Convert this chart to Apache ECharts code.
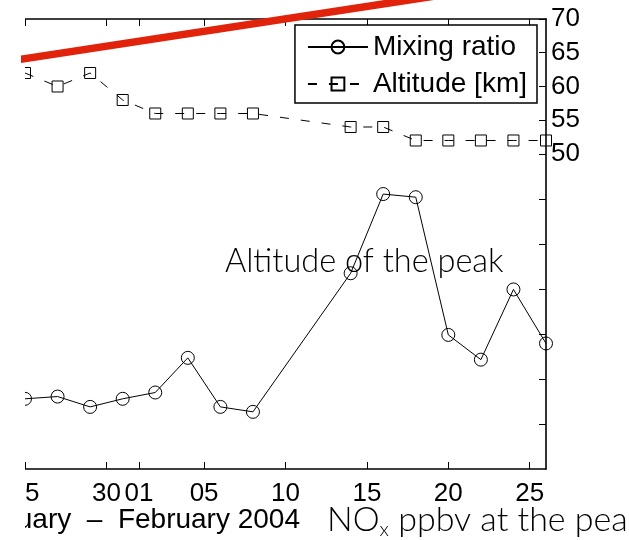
<!DOCTYPE html>
<html>
<head>
<meta charset="utf-8">
<script src="https://cdn.jsdelivr.net/npm/echarts@6/dist/echarts.min.js"></script>
<style>
  html, body { margin: 0; padding: 0; background: #fff; }
  #chart { width: 629px; height: 540px; }
</style>
</head>
<body>
<div id="chart"></div>
<script>
// Sampling dates (every second day, gap 8–14 Feb)
const dates = ['2004-01-25', '2004-01-27', '2004-01-29', '2004-01-31', '2004-02-02',
               '2004-02-04', '2004-02-06', '2004-02-08', '2004-02-14', '2004-02-16',
               '2004-02-18', '2004-02-20', '2004-02-22', '2004-02-24', '2004-02-26'];
// NOx mixing ratio at the peak (ppbv)
const mixingRatio = [1.56, 1.61, 1.38, 1.56, 1.70, 2.47, 1.38, 1.27, 4.35, 6.11,
                     6.04, 2.98, 2.43, 3.99, 2.79];
// Altitude of the peak (km)
const altitudeKm = [62, 60, 62, 58, 56, 56, 56, 56, 54, 54, 52, 52, 52, 52, 52];

// Axis ticks
const dateTicks = ['2004-01-25', '2004-01-30', '2004-02-01', '2004-02-05', '2004-02-10',
                   '2004-02-15', '2004-02-20', '2004-02-25'];
const altitudeTicks = [50, 55, 60, 65, 70];
const ratioTicks = [1, 2, 3, 4, 5, 6];

// Axis ranges
const dateRange = ['2004-01-25', '2004-02-26'];
const ratioRange = [0, 10];
const altitudeRange = [3.3333, 70];

// Red trend stroke (date, altitude km), runs past the frame
const trendLine = [['2004-01-23', 63.4], ['2004-02-20', 73.7]];

// dates are placed on a linear axis as millisecond timestamps
const T = s => echarts.time.parse(s).getTime();
const FONT = '"Liberation Sans", Arial, Helvetica, sans-serif';
const LIGHT = 'Lato, "Open Sans", Roboto, sans-serif';

const chart = echarts.init(document.getElementById('chart'), null, { renderer: 'canvas' });

const tickTimes = dateTicks.map(T);
const axisLineStyle = { color: '#000', width: 1.6 };

chart.setOption({
  backgroundColor: '#fff',
  animation: false,
  grid: { left: 25, right: 83, top: 19, bottom: 71, containLabel: false },
  legend: {
    orient: 'vertical',
    right: 92,
    top: 25,
    data: ['Mixing ratio', 'Altitude [km]'],
    itemWidth: 60,
    itemHeight: 16,
    itemGap: 9,
    padding: [8, 10, 5, 12],
    borderColor: '#000',
    borderWidth: 1.5,
    borderRadius: 0,
    backgroundColor: '#fff',
    textStyle: { fontFamily: FONT, fontSize: 28, color: '#000' },
    z: 8
  },
  xAxis: [
    {
      type: 'value',
      position: 'bottom',
      min: T(dateRange[0]),
      max: T(dateRange[1]),
      axisLine: { show: true, lineStyle: axisLineStyle },
      axisTick: { show: true, inside: true, length: 7, customValues: tickTimes,
                  lineStyle: { color: '#000', width: 1 } },
      axisLabel: {
        show: true,
        customValues: tickTimes,
        formatter: v => echarts.time.format(v, '{dd}', false),
        fontFamily: FONT, fontSize: 26, color: '#000', margin: 12,
        hideOverlap: false
      },
      splitLine: { show: false }
    },
    {
      type: 'value',
      position: 'top',
      min: T(dateRange[0]),
      max: T(dateRange[1]),
      axisLine: { show: true, lineStyle: axisLineStyle },
      axisTick: { show: true, inside: true, length: 7, customValues: tickTimes,
                  lineStyle: { color: '#000', width: 1 } },
      axisLabel: { show: false },
      splitLine: { show: false }
    }
  ],
  yAxis: [
    {
      // mixing ratio scale: tick marks only
      type: 'value',
      position: 'right',
      offset: 0,
      min: ratioRange[0],
      max: ratioRange[1],
      axisLine: { show: false },
      axisTick: { show: true, inside: true, length: 7, customValues: ratioTicks,
                  lineStyle: { color: '#000', width: 1 } },
      axisLabel: { show: false },
      splitLine: { show: false }
    },
    {
      // altitude scale
      type: 'value',
      position: 'right',
      offset: 0,
      min: altitudeRange[0],
      max: altitudeRange[1],
      axisLine: { show: true, lineStyle: axisLineStyle },
      axisTick: { show: true, inside: true, length: 7, customValues: altitudeTicks,
                  lineStyle: { color: '#000', width: 1 } },
      axisLabel: {
        show: true, customValues: altitudeTicks,
        fontFamily: FONT, fontSize: 26, color: '#000', margin: 5
      },
      splitLine: { show: false }
    }
  ],
  graphic: [
    {
      type: 'rect', left: 0, top: 0, z: 10, silent: true,
      shape: { width: 25, height: 540 },
      style: { fill: '#fff' }
    },
    {
      type: 'text', x: 300, y: 520, z: 5, silent: true,
      style: {
        text: 'January  \u2013  February 2004',
        font: '28px ' + FONT, fill: '#000',
        align: 'right', verticalAlign: 'middle'
      }
    },
    {
      type: 'text', x: 225, y: 262, z: 1, silent: true,
      style: {
        text: 'Altitude of the peak',
        font: '300 32.5px ' + LIGHT, fill: '#000',
        align: 'left', verticalAlign: 'middle'
      }
    },
    {
      type: 'text', x: 327, y: 500, z: 5, silent: true,
      style: {
        text: '{a|NO}{b|x}{a| ppbv at the peak}',
        fill: '#000',
        align: 'left', verticalAlign: 'top',
        rich: {
          a: { fontFamily: LIGHT, fontWeight: 300, fontSize: 34, lineHeight: 40, fill: '#000' },
          b: { fontFamily: LIGHT, fontWeight: 300, fontSize: 20, lineHeight: 40,
               verticalAlign: 'bottom', fill: '#000' }
        }
      }
    }
  ],
  series: [
    {
      name: 'Mixing ratio',
      type: 'line',
      xAxisIndex: 0,
      yAxisIndex: 0,
      data: dates.map((d, i) => [T(d), mixingRatio[i]]),
      symbol: 'circle',
      symbolSize: 13,
      itemStyle: { color: 'rgba(0,0,0,0)', borderColor: '#000', borderWidth: 1 },
      lineStyle: { color: '#000', width: 1 },
      z: 3
    },
    {
      name: 'Altitude [km]',
      type: 'line',
      xAxisIndex: 0,
      yAxisIndex: 1,
      data: dates.map((d, i) => [T(d), altitudeKm[i]]),
      symbol: 'rect',
      symbolSize: 11,
      itemStyle: { color: 'rgba(0,0,0,0)', borderColor: '#000', borderWidth: 1 },
      lineStyle: { color: '#000', width: 1, type: [9, 12] },
      z: 3
    },
    {
      name: 'trend',
      type: 'line',
      xAxisIndex: 0,
      yAxisIndex: 1,
      data: trendLine.map(p => [T(p[0]), p[1]]),
      symbol: 'none',
      clip: false,
      silent: true,
      lineStyle: { color: '#e1230c', width: 7.5, cap: 'butt' },
      z: 20
    }
  ]
});
</script>
</body>
</html>
